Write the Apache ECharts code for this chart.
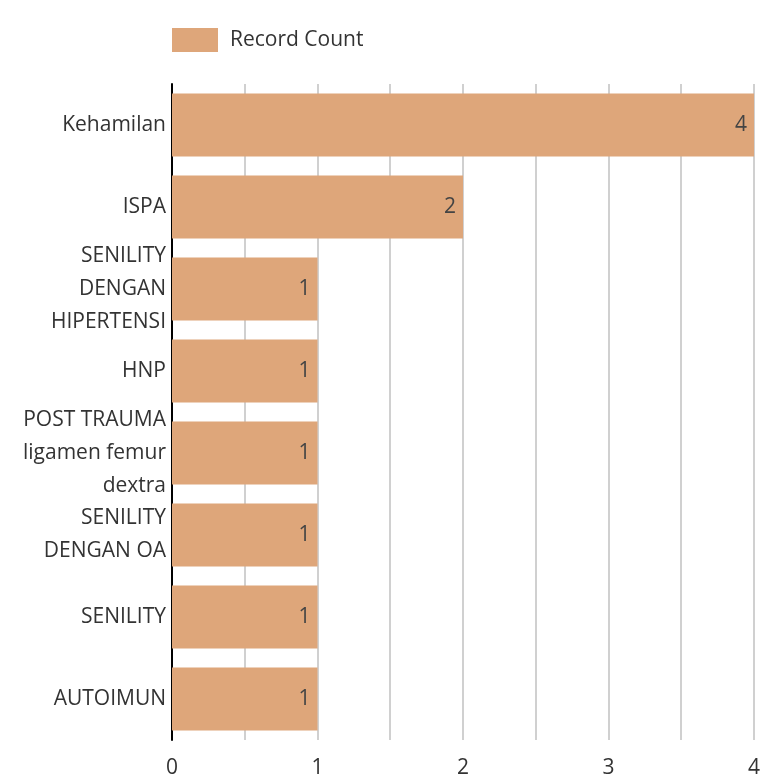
<!DOCTYPE html>
<html>
<head>
<meta charset="utf-8">
<script src="https://cdn.jsdelivr.net/npm/echarts@6/dist/echarts.min.js"></script>
<style>
  html, body { margin: 0; padding: 0; background: #fff; }
  #chart { width: 763px; height: 782px; }
</style>
</head>
<body>
<div id="chart"></div>
<script>
// Diagnoses, listed top to bottom
const categories = [
  'Kehamilan',
  'ISPA',
  'SENILITY\nDENGAN\nHIPERTENSI',
  'HNP',
  'POST TRAUMA\nligamen femur\ndextra',
  'SENILITY\nDENGAN OA',
  'SENILITY',
  'AUTOIMUN'
];
const recordCount = [4, 2, 1, 1, 1, 1, 1, 1];
const seriesName = 'Record Count';

const FONT = '"Open Sans", "Noto Sans", sans-serif';
const TEXT = '#333';
const BAR = '#DEA67A';

const chart = echarts.init(document.getElementById('chart'), null, { renderer: 'canvas' });
chart.setOption({
  animation: false,
  textStyle: { fontFamily: FONT },
  legend: {
    data: [seriesName],
    left: 167,
    top: 23,
    itemWidth: 46,
    itemHeight: 24,
    itemGap: 12,
    icon: 'rect',
    textStyle: { fontFamily: FONT, fontSize: 21, color: TEXT, padding: [0, 0, 0, 7] }
  },
  grid: { left: 172, right: 7, top: 84, bottom: 42, containLabel: false },
  xAxis: {
    type: 'value',
    min: 0,
    max: 4,
    interval: 0.5,
    axisLine: { show: false },
    axisTick: { show: false },
    splitLine: { show: true, lineStyle: { color: '#d0d0d0', width: 2 } },
    axisLabel: {
      fontFamily: FONT,
      fontSize: 21,
      color: TEXT,
      margin: 18,
      formatter: v => (v % 1 === 0 ? String(v) : '')
    }
  },
  yAxis: {
    type: 'category',
    inverse: true,
    data: categories,
    axisLine: { show: true, lineStyle: { color: '#000', width: 2 } },
    axisTick: { show: false },
    axisLabel: {
      fontFamily: FONT,
      fontSize: 21,
      color: TEXT,
      margin: 6,
      lineHeight: 33,
      align: 'right'
    }
  },
  series: [{
    name: seriesName,
    type: 'bar',
    data: recordCount,
    barCategoryGap: '23%',
    itemStyle: { color: BAR },
    label: {
      show: true,
      position: 'insideRight',
      distance: 7,
      fontFamily: FONT,
      fontSize: 21,
      color: '#444'
    }
  }]
});
</script>
</body>
</html>
